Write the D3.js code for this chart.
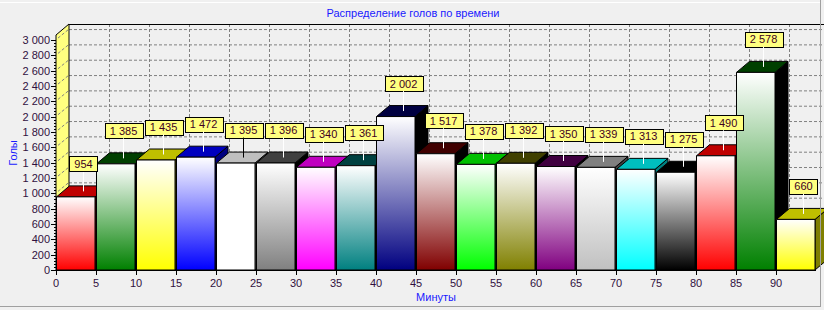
<!DOCTYPE html>
<html>
<head>
<meta charset="utf-8">
<script src="https://cdn.jsdelivr.net/npm/d3@7"></script>
<style>
  body { margin: 0; background: #f0f0f0; }
  svg { display: block; font-family: "Liberation Sans", Arial, sans-serif; }
</style>
</head>
<body>
<div></div>
<script>
// minutes (bin start) and goals per 5-minute bin
const minutes = [0, 5, 10, 15, 20, 25, 30, 35, 40, 45, 50, 55, 60, 65, 70, 75, 80, 85, 90];
const goals = [954, 1385, 1435, 1472, 1395, 1396, 1340, 1361, 2002, 1517, 1378, 1392, 1350, 1339, 1313, 1275, 1490, 2578, 660];
const barColors = ["#ff0000", "#008000", "#ffff00", "#0000ff", "#ffffff", "#808080", "#ff00ff", "#008080", "#000080",
  "#800000", "#00ff00", "#808000", "#800080", "#c0c0c0", "#00ffff", "#000000", "#ff0000", "#008000", "#ffff00"];
const yTicks = d3.range(0, 3001, 200);
const xTicks = d3.range(0, 91, 5);

const W = 824, H = 310;
const dx = 13, dy = -11; // 3d depth offset

const svg = d3.select("div").append("svg").attr("width", W).attr("height", H);

const x = d3.scaleLinear().domain([0, 95]).range([56, 816]);
const y = d3.scaleLinear().domain([0, 3066]).range([270, 35]);

const loc = d3.formatLocale({ decimal: ",", thousands: " ", grouping: [3], currency: ["", ""] });
const fmt = loc.format(",d");

function darker(c, amt) {
  const r = d3.rgb(c);
  return d3.rgb(Math.max(0, r.r - amt), Math.max(0, r.g - amt), Math.max(0, r.b - amt)).formatHex();
}

// panel border
svg.append("line").attr("x1", 0).attr("x2", 820).attr("y1", 2.5).attr("y2", 2.5).attr("stroke", "#ffffff");

// title
svg.append("text").attr("x", 413).attr("y", 17).attr("text-anchor", "middle")
  .attr("font-size", 11).attr("fill", "#1a1aff").text("Распределение голов по времени");

// back grid
const grid = svg.append("g").attr("stroke", "#808080").attr("stroke-dasharray", "3,2");
grid.selectAll(".hg").data(yTicks).join("line")
  .attr("x1", x(0) + dx).attr("x2", x(95) + dx)
  .attr("y1", d => y(d) + dy + 0.5).attr("y2", d => y(d) + dy + 0.5);
grid.selectAll(".vg").data(xTicks.slice(1).concat([95])).join("line")
  .attr("x1", d => Math.round(x(d) + dx) + 0.5).attr("x2", d => Math.round(x(d) + dx) + 0.5)
  .attr("y1", y.range()[1] + dy).attr("y2", y(0) + dy);

// back top border
svg.append("line").attr("x1", x(0) + dx).attr("x2", x(95) + dx)
  .attr("y1", y.range()[1] + dy + 0.5).attr("y2", y.range()[1] + dy + 0.5).attr("stroke", "#000");

// left wall
const wallTop = y.range()[1];
svg.append("path")
  .attr("d", `M${x(0)},${y(0)} L${x(0)},${wallTop} L${x(0) + dx},${wallTop + dy} L${x(0) + dx},${y(0) + dy} Z`)
  .attr("fill", "#ffff80").attr("stroke", "#000").attr("stroke-width", 1);
svg.append("g").attr("stroke", "#808080").attr("stroke-dasharray", "3,2")
  .selectAll("line").data(yTicks.slice(1)).join("line")
  .attr("x1", x(0) + 2).attr("y1", d => y(d) - 2)
  .attr("x2", x(0) + dx).attr("y2", d => y(d) + dy);

// y axis ticks and labels
const yAxis = svg.append("g");
yAxis.selectAll(".mt").data(d3.range(0, 3001, 40)).join("line")
  .attr("x1", x(0) - 2).attr("x2", x(0)).attr("y1", d => Math.round(y(d)) + 0.5).attr("y2", d => Math.round(y(d)) + 0.5)
  .attr("stroke", "#000");
yAxis.selectAll(".t").data(yTicks).join("line")
  .attr("x1", x(0) - 5).attr("x2", x(0)).attr("y1", d => Math.round(y(d)) + 0.5).attr("y2", d => Math.round(y(d)) + 0.5)
  .attr("stroke", "#000");
yAxis.selectAll("text").data(yTicks).join("text")
  .attr("x", 50).attr("y", d => y(d) + 4).attr("text-anchor", "end")
  .attr("font-size", 11).attr("fill", "#301040").text(d => fmt(d));

svg.append("text").attr("transform", "translate(17,153) rotate(-90)").attr("text-anchor", "middle")
  .attr("font-size", 11).attr("fill", "#1a1aff").text("Голы");

// gradients
const defs = svg.append("defs");
barColors.forEach((c, i) => {
  const g = defs.append("linearGradient").attr("id", "g" + i).attr("x1", 0).attr("y1", 0).attr("x2", 0).attr("y2", 1);
  g.append("stop").attr("offset", 0).attr("stop-color", "#ffffff");
  g.append("stop").attr("offset", 1).attr("stop-color", c);
});

// bars
const bars = svg.append("g");
minutes.forEach((m, i) => {
  const x0 = x(m) + 0.5, x1 = x(m + 5) - 1;
  const yt = y(goals[i]), yb = y(0);
  const g = bars.append("g").attr("stroke", "#000").attr("stroke-width", 1).attr("stroke-linejoin", "round");
  g.append("path")
    .attr("d", `M${x1},${yt} L${x1 + dx},${yt + dy} L${x1 + dx},${yb + dy} L${x1},${yb} Z`)
    .attr("fill", darker(barColors[i], 128));
  g.append("path")
    .attr("d", `M${x0},${yt} L${x0 + dx},${yt + dy} L${x1 + dx},${yt + dy} L${x1},${yt} Z`)
    .attr("fill", darker(barColors[i], 64));
  g.append("rect").attr("x", x0).attr("y", yt).attr("width", x1 - x0).attr("height", yb - yt)
    .attr("fill", `url(#g${i})`);
});

// x axis
svg.append("line").attr("x1", x(0)).attr("x2", x(95)).attr("y1", 270.5).attr("y2", 270.5).attr("stroke", "#000");
const xAxis = svg.append("g");
xAxis.selectAll("line").data(xTicks).join("line")
  .attr("x1", d => Math.round(x(d)) + 0.5).attr("x2", d => Math.round(x(d)) + 0.5)
  .attr("y1", 270).attr("y2", 275).attr("stroke", "#000");
xAxis.selectAll("text").data(xTicks).join("text")
  .attr("x", d => x(d)).attr("y", 287).attr("text-anchor", "middle")
  .attr("font-size", 11).attr("fill", "#301040").text(d => d);

svg.append("text").attr("x", 436).attr("y", 301).attr("text-anchor", "middle")
  .attr("font-size", 11).attr("fill", "#1a1aff").text("Минуты");

// value marks
const marks = svg.append("g");
minutes.forEach((m, i) => {
  const cx = Math.round((x(m) + x(m + 5)) / 2 + dx / 2) + 0.5;
  const cy = y(goals[i]) + dy / 2;
  const boxBottom = cy - 20;
  marks.append("line").attr("x1", cx).attr("x2", cx).attr("y1", boxBottom).attr("y2", cy)
    .attr("stroke", barColors[i] === "#ffffff" ? "#000" : "#fff");
  const t = marks.append("text").attr("x", cx).attr("y", boxBottom - 3.5).attr("text-anchor", "middle")
    .attr("font-size", 11).attr("fill", "#400020").text(fmt(goals[i]));
  const w = t.node().getComputedTextLength() + 10;
  marks.insert("rect", "text").attr("x", Math.round(cx - w / 2) + 0.5).attr("y", Math.round(boxBottom - 15) + 0.5)
    .attr("width", Math.round(w)).attr("height", 15).attr("fill", "#ffff80").attr("stroke", "#000");
});

// panel border (bottom / right)
svg.append("line").attr("x1", 0).attr("x2", 821).attr("y1", 306.5).attr("y2", 306.5).attr("stroke", "#a0a0a0");
svg.append("line").attr("x1", 820.5).attr("x2", 820.5).attr("y1", 0).attr("y2", 307).attr("stroke", "#a0a0a0");
</script>
</body>
</html>
